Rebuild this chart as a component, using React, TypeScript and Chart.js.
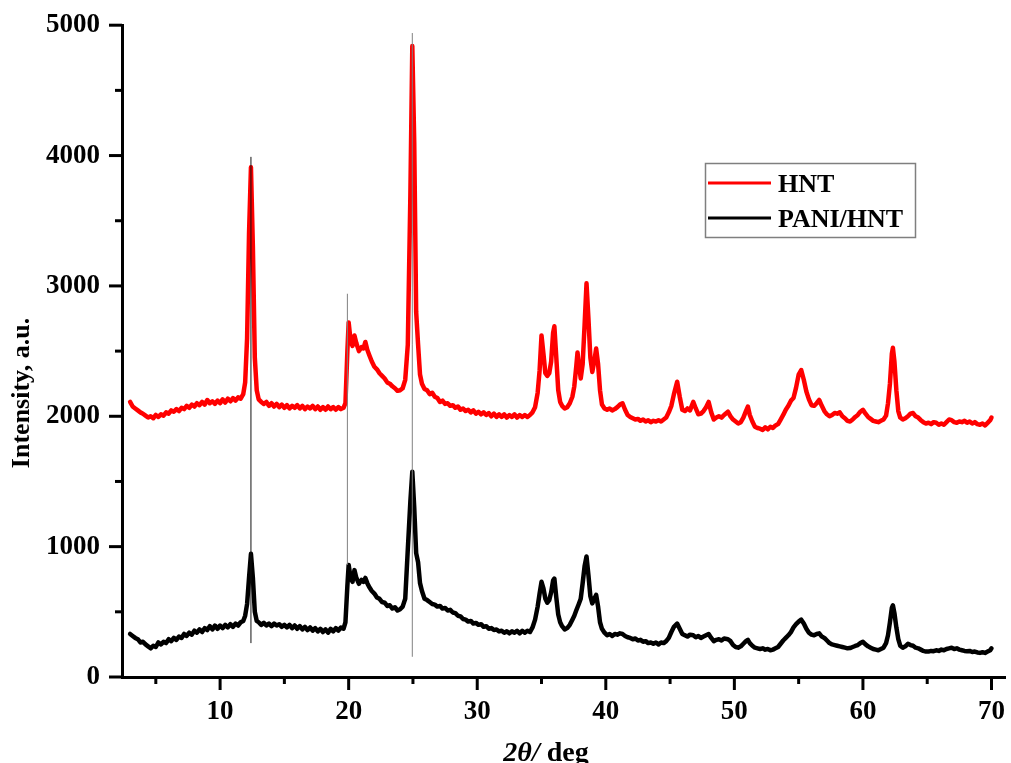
import { useEffect, useRef } from 'react';
import { Chart, registerables } from 'chart.js';

Chart.register(...registerables);

// 2θ positions (deg) shared by both patterns
const twoTheta = [
  3.0, 3.2, 3.4, 3.6, 3.8, 4.0, 4.2, 4.4, 4.6, 4.8,
  5.0, 5.2, 5.4, 5.6, 5.8, 6.0, 6.2, 6.4, 6.6, 6.8,
  7.0, 7.2, 7.4, 7.6, 7.8, 8.0, 8.2, 8.4, 8.6, 8.8,
  9.0, 9.2, 9.4, 9.6, 9.8, 10.0, 10.2, 10.4, 10.6, 10.8,
  11.0, 11.2, 11.4, 11.6, 11.8,
  11.95, 12.1, 12.25, 12.4, 12.55, 12.7, 12.85,
  13.0, 13.2, 13.4, 13.6, 13.8, 14.0, 14.2, 14.4, 14.6, 14.8,
  15.0, 15.2, 15.4, 15.6, 15.8, 16.0, 16.2, 16.4, 16.6, 16.8,
  17.0, 17.2, 17.4, 17.6, 17.8, 18.0, 18.2, 18.4, 18.6, 18.8,
  19.0, 19.2, 19.4, 19.6,
  19.75, 19.9, 20.0, 20.15, 20.3, 20.45, 20.6, 20.8, 21.0, 21.15,
  21.3, 21.45, 21.6, 21.8, 22.0, 22.2, 22.4, 22.6, 22.8, 23.0,
  23.2, 23.4, 23.6, 23.8, 24.0, 24.2, 24.4,
  24.6, 24.8, 24.95, 25.1, 25.25, 25.4, 25.55, 25.7, 25.9,
  26.1, 26.3, 26.5, 26.7, 26.9, 27.1, 27.3, 27.5, 27.7, 27.9,
  28.1, 28.3, 28.5, 28.7, 28.9, 29.1, 29.3, 29.5, 29.7, 29.9,
  30.1, 30.3, 30.5, 30.7, 30.9, 31.1, 31.3, 31.5, 31.7, 31.9,
  32.1, 32.3, 32.5, 32.7, 32.9, 33.1, 33.3, 33.5, 33.7, 33.9,
  34.1,
  34.3, 34.5, 34.7, 34.85, 35.0, 35.15, 35.3, 35.45, 35.6, 35.75,
  35.9, 36.0, 36.15, 36.3, 36.45, 36.6, 36.8, 37.0, 37.2, 37.4,
  37.55, 37.7, 37.8, 37.9, 38.05, 38.2, 38.35, 38.5, 38.65, 38.8,
  38.95, 39.1, 39.25, 39.4, 39.55, 39.7, 39.9,
  40.1, 40.3, 40.5, 40.7, 40.9, 41.1, 41.3, 41.5, 41.7, 41.9,
  42.1, 42.3, 42.5, 42.7, 42.9, 43.1, 43.3, 43.5, 43.7, 43.9,
  44.1, 44.3, 44.5, 44.7, 44.9,
  45.1, 45.3, 45.55, 45.75, 45.95, 46.15, 46.35, 46.55, 46.8, 47.0,
  47.2, 47.4, 47.6, 47.8, 48.0, 48.2, 48.4, 48.6, 48.8, 49.0,
  49.2, 49.5, 49.7, 49.9, 50.1, 50.3, 50.5, 50.7, 50.9, 51.05,
  51.2, 51.4, 51.6, 51.8, 52.0, 52.2, 52.4, 52.6, 52.8, 53.0,
  53.2, 53.4, 53.6, 53.8, 54.0, 54.2, 54.4, 54.6, 54.8, 55.0,
  55.2, 55.4, 55.6, 55.8, 56.0, 56.2, 56.4, 56.6, 56.8, 57.0,
  57.2, 57.4, 57.6, 57.8, 58.0, 58.2, 58.4, 58.6, 58.8, 59.0,
  59.2, 59.4, 59.6, 59.8, 60.0, 60.2, 60.4, 60.6, 60.8, 61.0,
  61.2, 61.4, 61.6, 61.8,
  61.95, 62.1, 62.25, 62.33, 62.45, 62.6, 62.75, 62.9,
  63.1, 63.3, 63.5, 63.7, 63.9, 64.1, 64.3, 64.5, 64.7, 64.9,
  65.1, 65.3, 65.5, 65.7, 65.9, 66.1, 66.3, 66.5, 66.7, 66.9,
  67.1, 67.3, 67.5, 67.7, 67.9, 68.1, 68.3, 68.5, 68.7, 68.9,
  69.1, 69.3, 69.5, 69.7, 69.9, 70.0,
];

// HNT intensity (a.u.)
const hntIntensity = [
  2110, 2075, 2060, 2045, 2030, 2020, 2005, 1990, 2000, 1985,
  2010, 1995, 2015, 2005, 2030, 2020, 2045, 2035, 2055, 2040,
  2065, 2055, 2080, 2065, 2090, 2075, 2100, 2085, 2110, 2090,
  2125, 2100, 2115, 2095, 2120, 2100, 2130, 2105, 2135, 2115,
  2140, 2120, 2145, 2135, 2170,
  2260, 2600, 3400, 3910, 3300, 2450, 2200,
  2130, 2110, 2095, 2110, 2080, 2100, 2075, 2095, 2070, 2090,
  2065, 2085, 2060, 2080, 2065, 2085, 2060, 2080, 2055, 2075,
  2060, 2080, 2055, 2075, 2050, 2070, 2050, 2075, 2055, 2070,
  2050, 2070, 2055, 2065,
  2100, 2500, 2720, 2580, 2540, 2620, 2560, 2500, 2530, 2520,
  2570, 2510, 2470, 2420, 2380, 2360, 2330, 2310, 2290, 2260,
  2250, 2230, 2215, 2195, 2200, 2215, 2280,
  2550, 3700, 4840, 4100, 2800, 2550, 2320, 2250, 2210,
  2200, 2170, 2180, 2150, 2140, 2110, 2120, 2095, 2100, 2080,
  2085, 2065, 2075, 2050, 2060, 2040, 2050, 2030, 2045, 2020,
  2035, 2015, 2030, 2010, 2025, 2000, 2020, 1995, 2015, 1995,
  2015, 1990, 2010, 1995, 2015, 1990, 2010, 1995, 2010, 1995,
  2010,
  2030, 2070, 2180, 2350, 2620, 2480, 2330, 2310, 2330, 2420,
  2640, 2690, 2450, 2200, 2110, 2080, 2060, 2070, 2100, 2150,
  2230, 2380, 2490, 2400, 2290, 2400, 2700, 3020, 2750, 2450,
  2340, 2420, 2520, 2400, 2200, 2090, 2060,
  2050, 2060, 2045, 2055, 2070, 2090, 2100, 2050, 2010, 1995,
  1985, 1975, 1980, 1965, 1975, 1960, 1970, 1955, 1965, 1960,
  1970, 1960, 1975, 1990, 2030,
  2080, 2170, 2265, 2150, 2050, 2040, 2060, 2045, 2110, 2060,
  2015, 2020, 2040, 2070, 2110, 2030, 1975, 1990, 2000, 1990,
  2010, 2035, 2000, 1975, 1960, 1945, 1955, 1990, 2040, 2075,
  2010, 1960, 1920, 1910, 1905, 1895, 1915, 1900, 1920, 1910,
  1930, 1940, 1975, 2010, 2050, 2080, 2120, 2140, 2220, 2320,
  2355, 2280, 2190, 2130, 2085, 2080, 2100, 2125, 2080, 2040,
  2015, 2000, 2010, 2025, 2020, 2030, 2000, 1985, 1965, 1960,
  1975, 1995, 2010, 2035, 2050, 2020, 1995, 1980, 1965, 1960,
  1955, 1965, 1975, 2005,
  2100, 2250, 2480, 2525, 2420, 2200, 2040, 1990,
  1975, 1985, 2000, 2020, 2025, 2000, 1990, 1970, 1955, 1945,
  1950, 1940, 1955, 1950, 1935, 1945, 1935, 1955, 1975, 1970,
  1955, 1950, 1960, 1955, 1965, 1950, 1960, 1945, 1955, 1940,
  1935, 1945, 1930, 1950, 1970, 1990,
];

// PANI/HNT intensity (a.u.)
const paniHntIntensity = [
  330, 315, 300, 290, 265, 270, 250, 235, 220, 240,
  230, 265, 250, 270, 260, 290, 275, 300, 285, 310,
  300, 330, 315, 340, 325, 355, 340, 365, 345, 375,
  360, 390, 365, 395, 370, 395, 375, 400, 380, 405,
  385, 410, 395, 420, 430,
  470, 560, 760, 945, 760, 500, 430,
  420, 400, 415, 395, 410, 390, 410, 395, 405, 385,
  400, 380, 400, 375, 395, 370, 390, 365, 385, 360,
  380, 355, 375, 350, 370, 345, 365, 340, 370, 350,
  375, 355, 380, 370,
  420, 700, 860, 760, 730, 820, 760, 715, 745, 730,
  760, 720, 690, 660, 640, 610, 600, 575, 570, 545,
  550, 525, 535, 510, 520, 540, 600,
  980, 1350, 1575, 1300, 950, 880, 720, 660, 600,
  590, 575, 560, 555, 540, 545, 525, 530, 510, 515,
  495, 490, 470, 465, 445, 440, 425, 430, 410, 415,
  400, 405, 385, 390, 370, 375, 360, 365, 350, 355,
  340, 350, 335, 350, 340, 355, 335, 355, 340, 355,
  345,
  380, 440, 540, 640, 730, 680, 600, 570, 590, 650,
  740, 755, 610, 480, 420, 390, 365, 375, 400, 440,
  470, 510, 535, 560, 600, 720, 850, 925, 780, 620,
  565, 600, 630, 540, 420, 370, 340,
  320, 330, 315, 330, 325, 335, 330, 315, 305, 300,
  290, 295, 280, 285, 270, 275, 260, 265, 255, 265,
  250, 265, 260, 275, 300,
  345, 385, 410, 370, 330, 320, 310, 325, 320, 305,
  315, 300, 310, 320, 330, 300, 275, 285, 290, 280,
  295, 290, 275, 245, 230, 225, 235, 255, 275, 285,
  260, 240, 225, 220, 215, 220, 210, 215, 205, 210,
  220, 230, 255, 280, 300, 320, 345, 380, 405, 425,
  440, 410, 370, 340, 325, 320, 330, 335, 310, 300,
  280, 260, 250, 245, 240, 235, 230, 225, 220, 222,
  230, 238, 245, 260, 270, 250, 235, 225, 215, 210,
  205, 215, 225, 260,
  320, 420, 530, 550, 490, 380, 290, 240,
  225, 235, 255, 245, 240, 225, 220, 210, 200, 195,
  195, 200, 198, 205, 200, 210, 205, 215, 220, 225,
  215, 220, 210, 205, 200, 198, 200, 192, 195, 188,
  185, 190, 185, 195, 205, 220,
];

// thin vertical reference lines (peak markers)
const refLinePositions = [12.4, 19.9, 24.95];
const refLineTops = [3990, 2940, 4940];
const refLineBottoms = [260, 860, 155];

const xTickLabels = [10, 20, 30, 40, 50, 60, 70];
const xMinorTicks = [5, 15, 25, 35, 45, 55, 65];
const yTickLabels = [0, 1000, 2000, 3000, 4000, 5000];
const yMinorTicks = [500, 1500, 2500, 3500, 4500];

const seriesLabels = ['HNT', 'PANI/HNT'];

const FONT = "'Liberation Serif', 'Times New Roman', serif";

const decorPlugin = {
  id: 'decor',
  afterDraw(chart: any) {
    const { ctx, scales, chartArea } = chart;
    const xs = scales.x;
    const ys = scales.y;
    ctx.save();
    // ticks
    ctx.strokeStyle = '#000';
    ctx.lineWidth = 3;
    ctx.lineCap = 'butt';
    const drawX = (v: number, len: number) => {
      const px = xs.getPixelForValue(v);
      ctx.beginPath();
      ctx.moveTo(px, chartArea.bottom);
      ctx.lineTo(px, chartArea.bottom + len);
      ctx.stroke();
    };
    const drawY = (v: number, len: number) => {
      const py = ys.getPixelForValue(v);
      ctx.beginPath();
      ctx.moveTo(chartArea.left, py);
      ctx.lineTo(chartArea.left - len, py);
      ctx.stroke();
    };
    xTickLabels.forEach((v) => drawX(v, 13));
    xMinorTicks.forEach((v) => drawX(v, 7));
    yTickLabels.forEach((v) => drawY(v, 13));
    yMinorTicks.forEach((v) => drawY(v, 7));

    // axis titles
    ctx.fillStyle = '#000';
    ctx.textBaseline = 'alphabetic';
    ctx.textAlign = 'left';
    ctx.font = `italic bold 28px ${FONT}`;
    const part1 = '2θ/';
    const w1 = ctx.measureText(part1).width;
    ctx.font = `bold 28px ${FONT}`;
    const part2 = ' deg';
    const w2 = ctx.measureText(part2).width;
    const cx = 546;
    const startX = cx - (w1 + w2) / 2;
    ctx.font = `italic bold 28px ${FONT}`;
    ctx.fillText(part1, startX, 761);
    ctx.font = `bold 28px ${FONT}`;
    ctx.fillText(part2, startX + w1, 761);

    ctx.save();
    ctx.translate(29, 393);
    ctx.rotate(-Math.PI / 2);
    ctx.textAlign = 'center';
    ctx.font = `bold 26px ${FONT}`;
    ctx.fillText('Intensity, a.u.', 0, 0);
    ctx.restore();

    // legend
    const lx = 705, ly = 163, lw = 210, lh = 74;
    ctx.fillStyle = '#fff';
    ctx.fillRect(lx, ly, lw, lh);
    ctx.strokeStyle = '#7f7f7f';
    ctx.lineWidth = 1.5;
    ctx.strokeRect(lx + 0.5, ly + 0.5, lw, lh);
    const items = chart.data.datasets.filter((d: any) => seriesLabels.includes(d.label));
    items.forEach((d: any, i: number) => {
      const yy = 183 + i * 35;
      ctx.strokeStyle = d.borderColor;
      ctx.lineWidth = 3;
      ctx.beginPath();
      ctx.moveTo(708, yy);
      ctx.lineTo(771, yy);
      ctx.stroke();
      ctx.fillStyle = '#000';
      ctx.font = `bold 26px ${FONT}`;
      ctx.textAlign = 'left';
      ctx.textBaseline = 'alphabetic';
      ctx.fillText(d.label, 778, yy + 9);
    });
    ctx.restore();
  },
};

export default function App() {
  const canvasRef = useRef<HTMLCanvasElement | null>(null);

  useEffect(() => {
    if (!canvasRef.current) return;
    const refDatasets = refLinePositions.map((x, i) => ({
      label: 'ref' + i,
      data: [
        { x, y: refLineBottoms[i] },
        { x, y: refLineTops[i] },
      ],
      borderColor: i === 0 ? '#111111' : '#808080',
      borderWidth: 1,
      pointRadius: 0,
      showLine: true,
      order: 0,
    }));
    const chart = new Chart(canvasRef.current, {
      type: 'scatter',
      data: {
        datasets: [
          ...refDatasets,
          {
            label: seriesLabels[0],
            data: twoTheta.map((x, i) => ({ x, y: hntIntensity[i] })),
            borderColor: '#ff0000',
            backgroundColor: '#ff0000',
            borderWidth: 4.5,
            borderJoinStyle: 'round',
            borderCapStyle: 'round',
            pointRadius: 0,
            showLine: true,
            order: 2,
          },
          {
            label: seriesLabels[1],
            data: twoTheta.map((x, i) => ({ x, y: paniHntIntensity[i] })),
            borderColor: '#000000',
            backgroundColor: '#000000',
            borderWidth: 4.5,
            borderJoinStyle: 'round',
            borderCapStyle: 'round',
            pointRadius: 0,
            showLine: true,
            order: 2,
          },
        ],
      },
      options: {
        animation: false,
        responsive: false,
        devicePixelRatio: 1,
        layout: { padding: { top: 25, left: 0, right: 0, bottom: 0 } },
        plugins: {
          legend: { display: false },
          tooltip: { enabled: false },
        },
        scales: {
          x: {
            type: 'linear',
            min: 2.37,
            max: 71.1,
            afterBuildTicks: (s: any) => {
              s.ticks = xTickLabels.map((v) => ({ value: v }));
            },
            afterFit: (s: any) => {
              s.height = 86;
            },
            ticks: {
              color: '#000',
              font: { family: FONT, size: 27, weight: 'bold' },
              padding: 6,
              maxRotation: 0,
              autoSkip: false,
              callback: (v: any) => String(v),
            },
            grid: { display: true, drawOnChartArea: false, drawTicks: true, tickLength: 13, tickColor: 'rgba(0,0,0,0)' },
            border: { display: true, color: '#000', width: 3 },
          },
          y: {
            type: 'linear',
            min: 0,
            max: 5000,
            afterBuildTicks: (s: any) => {
              s.ticks = yTickLabels.map((v) => ({ value: v }));
            },
            afterFit: (s: any) => {
              s.width = 122;
            },
            ticks: {
              color: '#000',
              font: { family: FONT, size: 27, weight: 'bold' },
              padding: 9,
              autoSkip: false,
              callback: (v: any) => String(v),
            },
            grid: { display: true, drawOnChartArea: false, drawTicks: true, tickLength: 13, tickColor: 'rgba(0,0,0,0)' },
            border: { display: true, color: '#000', width: 3 },
          },
        },
      },
      plugins: [decorPlugin],
    } as any);
    return () => chart.destroy();
  }, []);

  return (
    <div style={{ position: 'fixed', left: 0, top: 0, width: 1011, height: 763, background: '#fff' }}>
      <canvas ref={canvasRef} width={1011} height={763} style={{ display: 'block' }} />
    </div>
  );
}
